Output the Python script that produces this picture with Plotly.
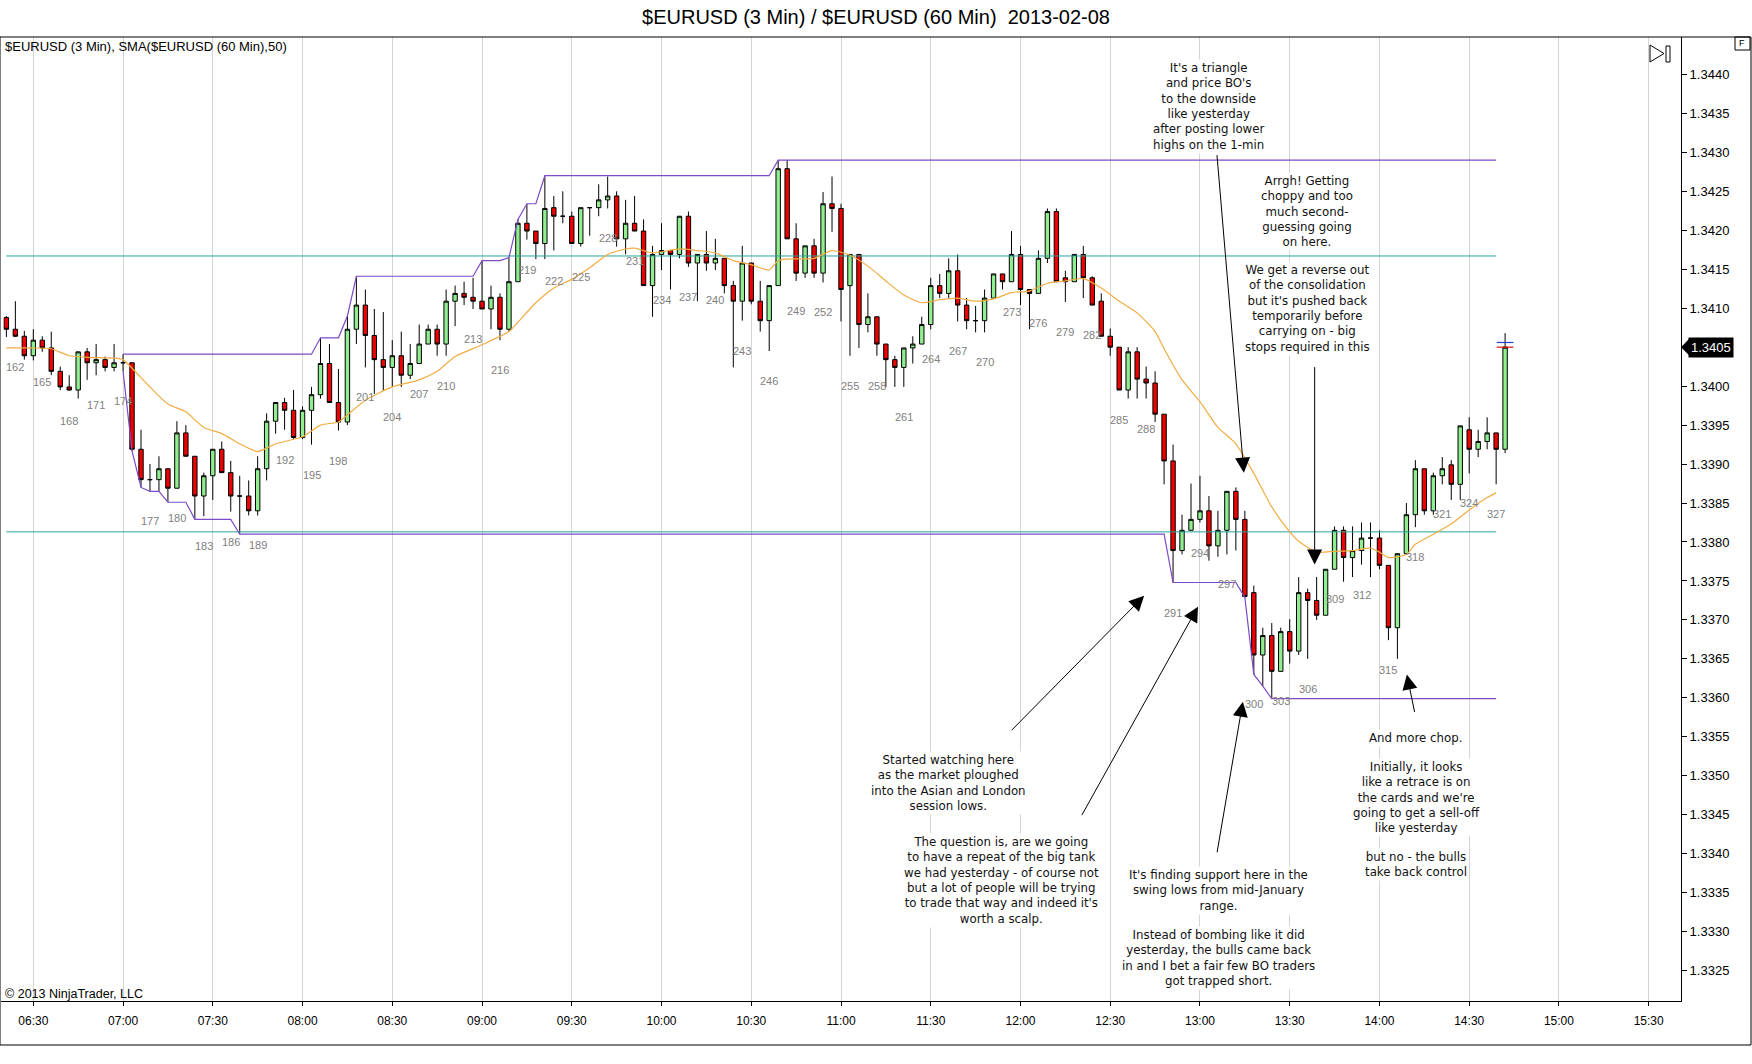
import numpy as np
import pandas as pd
import plotly.graph_objects as go

# 3-min EURUSD bars, numbered like the chart (first visible bar = 161, bar 174 = 07:00)
first_bar = 161
opens = [1.34088, 1.34073, 1.34064, 1.34039, 1.34059, 1.34049, 1.34019, 1.33999, 1.33995, 1.34044,
         1.34030, 1.34034, 1.34024, 1.34030, 1.34030, 1.33919, 1.33880, 1.33880, 1.33894, 1.33869,
         1.33940, 1.33910, 1.33859, 1.33885, 1.33919, 1.33889, 1.33859, 1.33859, 1.33840, 1.33894,
         1.33955, 1.33979, 1.33969, 1.33934, 1.33969, 1.33989, 1.34029, 1.33979, 1.33954, 1.34073,
         1.34104, 1.34065, 1.34034, 1.34024, 1.34039, 1.34014, 1.34029, 1.34054, 1.34073, 1.34054,
         1.34109, 1.34119, 1.34114, 1.34109, 1.34099, 1.34114, 1.34073, 1.34134, 1.34209, 1.34199,
         1.34183, 1.34229, 1.34218, 1.34218, 1.34183, 1.34229, 1.34229, 1.34239, 1.34244, 1.34189,
         1.34209, 1.34199, 1.34129, 1.34169, 1.34174, 1.34169, 1.34218, 1.34158, 1.34169, 1.34158,
         1.34164, 1.34129, 1.34109, 1.34158, 1.34109, 1.34084, 1.34129, 1.34279, 1.34189, 1.34145,
         1.34180, 1.34145, 1.34234, 1.34228, 1.34129, 1.34169, 1.34079, 1.34089, 1.34054, 1.34034,
         1.34024, 1.34049, 1.34054, 1.34079, 1.34129, 1.34119, 1.34148, 1.34104, 1.34084, 1.34084,
         1.34113, 1.34144, 1.34134, 1.34169, 1.34124, 1.34119, 1.34164, 1.34224, 1.34139, 1.34134,
         1.34169, 1.34139, 1.34109, 1.34064, 1.34050, 1.33995, 1.34044, 1.34009, 1.34004, 1.33964,
         1.33904, 1.33789, 1.33815, 1.33829, 1.33840, 1.33795, 1.33815, 1.33865, 1.33829, 1.33735,
         1.33655, 1.33680, 1.33634, 1.33685, 1.33660, 1.33735, 1.33725, 1.33706, 1.33765, 1.33815,
         1.33780, 1.33789, 1.33805, 1.33805, 1.33770, 1.33690, 1.33785, 1.33835, 1.33894, 1.33840,
         1.33885, 1.33899, 1.33874, 1.33944, 1.33919, 1.33929, 1.33940, 1.33919]
highs = [1.34090, 1.34109, 1.34071, 1.34073, 1.34064, 1.34070, 1.34025, 1.34014, 1.34044, 1.34049,
         1.34054, 1.34038, 1.34054, 1.34041, 1.34030, 1.33944, 1.33900, 1.33910, 1.33894, 1.33955,
         1.33950, 1.33910, 1.33889, 1.33919, 1.33929, 1.33904, 1.33885, 1.33879, 1.33910, 1.33965,
         1.33979, 1.33985, 1.33995, 1.33974, 1.33999, 1.34062, 1.34054, 1.34022, 1.34090, 1.34141,
         1.34124, 1.34099, 1.34095, 1.34059, 1.34070, 1.34054, 1.34079, 1.34079, 1.34079, 1.34124,
         1.34129, 1.34134, 1.34139, 1.34161, 1.34129, 1.34119, 1.34165, 1.34214, 1.34234, 1.34199,
         1.34270, 1.34244, 1.34250, 1.34224, 1.34229, 1.34229, 1.34259, 1.34269, 1.34250, 1.34239,
         1.34244, 1.34214, 1.34180, 1.34209, 1.34174, 1.34218, 1.34224, 1.34169, 1.34199, 1.34189,
         1.34164, 1.34135, 1.34180, 1.34158, 1.34135, 1.34129, 1.34290, 1.34290, 1.34209, 1.34180,
         1.34189, 1.34249, 1.34269, 1.34234, 1.34169, 1.34169, 1.34119, 1.34089, 1.34054, 1.34039,
         1.34049, 1.34064, 1.34089, 1.34139, 1.34144, 1.34164, 1.34169, 1.34113, 1.34103, 1.34124,
         1.34144, 1.34144, 1.34199, 1.34180, 1.34124, 1.34174, 1.34228, 1.34228, 1.34148, 1.34169,
         1.34180, 1.34141, 1.34119, 1.34074, 1.34050, 1.34050, 1.34050, 1.34025, 1.34019, 1.33964,
         1.33925, 1.33835, 1.33875, 1.33885, 1.33859, 1.33840, 1.33865, 1.33870, 1.33840, 1.33744,
         1.33690, 1.33696, 1.33690, 1.33701, 1.33755, 1.33740, 1.33755, 1.33765, 1.33820, 1.33820,
         1.33820, 1.33825, 1.33825, 1.33815, 1.33770, 1.33785, 1.33850, 1.33905, 1.33894, 1.33889,
         1.33909, 1.33905, 1.33949, 1.33960, 1.33944, 1.33960, 1.33940, 1.34068]
lows = [1.34063, 1.34063, 1.34034, 1.34033, 1.34044, 1.34014, 1.33995, 1.33994, 1.33984, 1.34008,
        1.34014, 1.34019, 1.34019, 1.34019, 1.33917, 1.33870, 1.33865, 1.33865, 1.33851, 1.33869,
        1.33910, 1.33829, 1.33833, 1.33854, 1.33889, 1.33839, 1.33810, 1.33834, 1.33834, 1.33879,
        1.33939, 1.33944, 1.33932, 1.33932, 1.33925, 1.33984, 1.33979, 1.33943, 1.33950, 1.34054,
        1.34024, 1.33990, 1.33994, 1.33999, 1.33999, 1.34009, 1.34029, 1.34054, 1.34039, 1.34039,
        1.34077, 1.34104, 1.34099, 1.34099, 1.34073, 1.34059, 1.34070, 1.34134, 1.34188, 1.34163,
        1.34163, 1.34174, 1.34209, 1.34183, 1.34179, 1.34193, 1.34218, 1.34228, 1.34179, 1.34169,
        1.34199, 1.34129, 1.34089, 1.34149, 1.34124, 1.34164, 1.34153, 1.34109, 1.34148, 1.34149,
        1.34119, 1.34024, 1.34084, 1.34105, 1.34070, 1.34045, 1.34129, 1.34189, 1.34135, 1.34139,
        1.34139, 1.34133, 1.34198, 1.34083, 1.34039, 1.34049, 1.34069, 1.34039, 1.33999, 1.33999,
        1.33999, 1.34029, 1.34054, 1.34073, 1.34113, 1.34113, 1.34083, 1.34073, 1.34069, 1.34069,
        1.34113, 1.34124, 1.34134, 1.34104, 1.34073, 1.34119, 1.34158, 1.34134, 1.34108, 1.34134,
        1.34113, 1.34104, 1.34064, 1.34039, 1.33995, 1.33984, 1.33984, 1.33984, 1.33954, 1.33874,
        1.33748, 1.33784, 1.33815, 1.33825, 1.33776, 1.33781, 1.33784, 1.33789, 1.33729, 1.33630,
        1.33615, 1.33599, 1.33634, 1.33644, 1.33655, 1.33650, 1.33700, 1.33706, 1.33765, 1.33749,
        1.33755, 1.33771, 1.33755, 1.33765, 1.33674, 1.33650, 1.33785, 1.33819, 1.33835, 1.33835,
        1.33874, 1.33854, 1.33854, 1.33888, 1.33909, 1.33919, 1.33874, 1.33914]
closes = [1.34073, 1.34064, 1.34039, 1.34059, 1.34049, 1.34019, 1.33999, 1.33995, 1.34044, 1.34030,
          1.34034, 1.34024, 1.34030, 1.34030, 1.33919, 1.33880, 1.33880, 1.33894, 1.33869, 1.33940,
          1.33910, 1.33859, 1.33885, 1.33919, 1.33889, 1.33859, 1.33859, 1.33840, 1.33894, 1.33955,
          1.33979, 1.33969, 1.33934, 1.33969, 1.33989, 1.34029, 1.33979, 1.33954, 1.34073, 1.34104,
          1.34065, 1.34034, 1.34024, 1.34039, 1.34014, 1.34029, 1.34054, 1.34073, 1.34054, 1.34109,
          1.34119, 1.34114, 1.34109, 1.34099, 1.34114, 1.34073, 1.34134, 1.34209, 1.34199, 1.34183,
          1.34228, 1.34218, 1.34218, 1.34183, 1.34229, 1.34229, 1.34239, 1.34244, 1.34189, 1.34209,
          1.34199, 1.34129, 1.34169, 1.34174, 1.34169, 1.34218, 1.34158, 1.34169, 1.34158, 1.34164,
          1.34129, 1.34109, 1.34158, 1.34109, 1.34084, 1.34129, 1.34279, 1.34189, 1.34145, 1.34180,
          1.34145, 1.34234, 1.34228, 1.34124, 1.34169, 1.34079, 1.34089, 1.34054, 1.34034, 1.34024,
          1.34049, 1.34054, 1.34079, 1.34129, 1.34119, 1.34148, 1.34104, 1.34084, 1.34084, 1.34113,
          1.34144, 1.34134, 1.34169, 1.34124, 1.34119, 1.34164, 1.34224, 1.34134, 1.34134, 1.34169,
          1.34139, 1.34104, 1.34064, 1.34050, 1.33995, 1.34044, 1.34009, 1.34004, 1.33964, 1.33904,
          1.33789, 1.33815, 1.33829, 1.33840, 1.33795, 1.33815, 1.33865, 1.33829, 1.33730, 1.33655,
          1.33680, 1.33634, 1.33685, 1.33660, 1.33735, 1.33725, 1.33706, 1.33765, 1.33815, 1.33780,
          1.33789, 1.33805, 1.33805, 1.33770, 1.33690, 1.33785, 1.33835, 1.33894, 1.33840, 1.33885,
          1.33894, 1.33874, 1.33949, 1.33919, 1.33929, 1.33940, 1.33919, 1.34050]

# SMA($EURUSD (60 Min),50) at these bars
sma_bars = [161, 164, 166, 168, 170, 173, 174, 175, 177, 179, 181, 183, 185, 187, 189, 191, 194, 196,
            198, 199, 201, 204, 207, 209, 211, 214, 217, 218, 220, 222, 224, 226, 228, 230, 231, 233,
            236, 238, 240, 242, 244, 246, 247, 248, 251, 253, 255, 257, 259, 261, 263, 265, 267, 269,
            271, 273, 275, 277, 279, 281, 283, 285, 287, 289, 290, 292, 294, 296, 298, 300, 302, 304,
            305, 307, 309, 311, 313, 314, 315, 317, 318, 320, 322, 324, 326, 327]
sma_values = [1.34049, 1.34049, 1.34048, 1.34039, 1.34037, 1.34036, 1.34034, 1.34023, 1.33999, 1.33977,
              1.33967, 1.33947, 1.33939, 1.33926, 1.33916, 1.33926, 1.33935, 1.33950, 1.33954, 1.33963,
              1.33982, 1.33999, 1.34008, 1.34019, 1.34038, 1.34053, 1.34070, 1.34082, 1.34107, 1.34126,
              1.34137, 1.34152, 1.34169, 1.34176, 1.34177, 1.34171, 1.34176, 1.34174, 1.34171, 1.34161,
              1.34156, 1.34149, 1.34161, 1.34163, 1.34164, 1.34174, 1.34168, 1.34154, 1.34135, 1.34117,
              1.34107, 1.34111, 1.34113, 1.34109, 1.34112, 1.34120, 1.34122, 1.34132, 1.34135, 1.34138,
              1.34126, 1.34109, 1.34094, 1.34070, 1.34048, 1.34008, 1.33980, 1.33947, 1.33926, 1.33888,
              1.33845, 1.33813, 1.33801, 1.33787, 1.33788, 1.33789, 1.33792, 1.33787, 1.33780, 1.33784,
              1.33797, 1.33810, 1.33823, 1.33841, 1.33857, 1.33863]

# horizontal levels (cyan) and the session high/low window
levels = [1.34167, 1.33813]
session_start_bar = 174
last_line_bar = 327
last_price = 1.3405

notes = [
    "It's a triangle<br>and price BO's<br>to the downside<br>like yesterday<br>after posting lower<br>highs on the 1-min",
    "Arrgh! Getting<br>choppy and too<br>much second-<br>guessing going<br>on here.<br><br>We get a reverse out<br>"
    "of the consolidation<br>but it's pushed back<br>temporarily before<br>carrying on - big<br>stops required in this",
    "Started watching here<br>as the market ploughed<br>into the Asian and London<br>session lows.",
    "The question is, are we going<br>to have a repeat of the big tank<br>we had yesterday - of course not<br>"
    "but a lot of people will be trying<br>to trade that way and indeed it's<br>worth a scalp.",
    "It's finding support here in the<br>swing lows from mid-January<br>range.<br><br>Instead of bombing like it did<br>"
    "yesterday, the bulls came back<br>in and I bet a fair few BO traders<br>got trapped short.",
    "And more chop.<br><br>Initially, it looks<br>like a retrace is on<br>the cards and we're<br>going to get a sell-off<br>"
    "like yesterday<br><br>but no - the bulls<br>take back control",
]
# arrow tips (time, price)
arrow_tips = [('13:14:40', 1.33889), ('13:38:20', 1.33771), ('12:41:20', 1.33731),
              ('12:59:20', 1.33717), ('13:14:20', 1.33595), ('14:09:10', 1.33630)]

# ---- layout helpers (pixel -> paper)
W, H = 1752, 1064
L, R, T, B = 1, 1681, 37, 1001


def px(x):
    return (x - L) / (R - L)


def py(y):
    return (B - y) / (B - T)


day = '2013-02-08 '
bar_no = np.arange(first_bar, first_bar + len(opens))
times = pd.Timestamp(day + '07:00') + pd.to_timedelta((bar_no - 174) * 3, unit='min')


def bar_time(n):
    return pd.Timestamp(day + '07:00') + pd.Timedelta(minutes=3 * (n - 174))


fig = go.Figure()

# cyan levels
for lv in levels:
    fig.add_trace(go.Scatter(x=[bar_time(first_bar), bar_time(last_line_bar)], y=[lv, lv], mode='lines',
                             line=dict(color='#26a39c', width=1), hoverinfo='skip'))

# running session high / low (purple)
i0 = session_start_bar - first_bar
i1 = last_line_bar - first_bar + 1
run_hi = np.maximum.accumulate(np.array(highs[i0:i1]))
run_lo = np.minimum.accumulate(np.array(lows[i0:i1]))
for arr in (run_hi, run_lo):
    fig.add_trace(go.Scatter(x=times[i0:i1], y=arr, mode='lines',
                             line=dict(color='#7d4bc8', width=1.2), hoverinfo='skip'))

# SMA
fig.add_trace(go.Scatter(x=[bar_time(b) for b in sma_bars], y=sma_values, mode='lines',
                         line=dict(color='#f2ac42', width=1.2, shape='spline', smoothing=0.6),
                         hoverinfo='skip'))

fig.add_trace(go.Candlestick(
    x=times, open=opens, high=highs, low=lows, close=closes,
    increasing=dict(line=dict(color='black', width=1), fillcolor='#90ee90'),
    decreasing=dict(line=dict(color='black', width=1), fillcolor='#ee0000'),
    whiskerwidth=0, hoverinfo='skip'))

# bid/ask ticks on the last bar
t_last = bar_time(bar_no[-1])
for dy, col in ((0.00006, '#1f3fd0'), (0.0, '#e01010')):
    fig.add_trace(go.Scatter(x=[t_last - pd.Timedelta(minutes=2.8), t_last + pd.Timedelta(minutes=2.8)],
                             y=[last_price + dy, last_price + dy], mode='lines',
                             line=dict(color=col, width=1.2), hoverinfo='skip'))

annotations = []
# bar numbers every 3rd bar
for n, t, lo in zip(bar_no, times, lows):
    if (n - 162) % 3 == 0 and n <= 327:
        annotations.append(dict(x=t, y=lo, text=str(n), showarrow=False, yshift=-30,
                                font=dict(family='Arial', size=11, color='#808080')))

# notes: centre x and first-line y in pixels; each paragraph gets its own white box
note_pos = [(1209, 69), (1307, 182), (948, 761), (1001, 843), (1218, 876), (1416, 737.5)]
line_h = 14.9
for txt, (cx, y0) in zip(notes, note_pos):
    lines = txt.split('<br>')
    start = 0
    for k in range(len(lines) + 1):
        if k == len(lines) or lines[k] == '':
            if k > start:
                cy = y0 + (start + k - 1) / 2 * line_h
                annotations.append(dict(xref='paper', yref='paper', x=px(cx), y=py(cy),
                                        text='<br>'.join(lines[start:k]), showarrow=False,
                                        xanchor='center', yanchor='middle', align='center', bgcolor='white',
                                        borderpad=1, font=dict(family='DejaVu Sans', size=11.8, color='#111111')))
            start = k + 1

arrow_tails = [(-27, -319), (0, -199), (-134, 136), (-117, 210), (-26, 152), (8, 39)]
for (tt, pr), (ax, ay) in zip(arrow_tips, arrow_tails):
    annotations.append(dict(x=pd.Timestamp(day + tt), y=pr, text='', showarrow=True, ax=ax, ay=ay,
                            axref='pixel', ayref='pixel', arrowhead=2, arrowsize=3, arrowwidth=1,
                            arrowcolor='black', standoff=0))

annotations += [
    dict(xref='paper', yref='paper', x=px(3), y=py(47), text='$EURUSD (3 Min), SMA($EURUSD (60 Min),50)',
         showarrow=False, xanchor='left', yanchor='middle', font=dict(family='Arial', size=13, color='black')),
    dict(xref='paper', yref='paper', x=px(3), y=py(994), text='© 2013 NinjaTrader, LLC',
         showarrow=False, xanchor='left', yanchor='middle', font=dict(family='Arial', size=12.5, color='black')),
    dict(xref='paper', yref='y', x=px(1688), y=last_price, text='1.3405', showarrow=False,
         xanchor='left', yanchor='middle', bgcolor='black', borderpad=2,
         font=dict(family='Arial', size=13, color='white')),
    dict(xref='paper', yref='paper', x=px(1742), y=py(43.5), text='F', showarrow=False,
         xanchor='center', yanchor='middle', font=dict(family='Arial', size=9, color='black')),
]

d8 = 8 / 77.51 * 0.001
shapes = [
    dict(type='rect', xref='paper', yref='paper', x0=px(0), x1=px(1751), y0=py(1045), y1=py(T),
         line=dict(color='black', width=1)),
    dict(type='path', xref='paper', yref='y',
         path=f'M {px(1681)} {last_price} L {px(1689)} {last_price + d8} L {px(1689)} {last_price - d8} Z',
         fillcolor='black', line=dict(width=0)),
    dict(type='rect', xref='paper', yref='paper', x0=px(1735), x1=px(1750), y0=py(50), y1=py(37),
         line=dict(color='black', width=1)),
    dict(type='path', xref='paper', yref='paper',
         path=f'M {px(1650)} {py(45)} L {px(1664)} {py(53.5)} L {px(1650)} {py(62)} Z',
         line=dict(color='black', width=1)),
    dict(type='rect', xref='paper', yref='paper', x0=px(1666), x1=px(1670), y0=py(62), y1=py(46),
         line=dict(color='black', width=1)),
]

fig.update_layout(
    width=W, height=H,
    margin=dict(l=L, r=W - R, t=T, b=H - B),
    paper_bgcolor='white', plot_bgcolor='white',
    showlegend=False,
    title=dict(text='$EURUSD (3 Min) / $EURUSD (60 Min)  2013-02-08', x=0.5, xref='container', xanchor='center',
               y=1 - 17 / H, yanchor='middle', font=dict(family='Arial', size=20, color='black')),
    xaxis=dict(type='date', range=[day + '06:19:12', day + '15:40:48'], tickformat='%H:%M',
               tick0=day + '06:30', dtick=30 * 60 * 1000, showgrid=True, gridcolor='#d4d4d4', gridwidth=1,
               showline=True, linecolor='black', linewidth=1, ticks='outside', ticklen=4, tickcolor='black',
               ticklabelstandoff=5,
               tickfont=dict(family='Arial', size=12, color='black'), zeroline=False,
               rangeslider=dict(visible=False)),
    yaxis=dict(side='right', range=[1.33211, 1.34448], tick0=1.3440, dtick=0.0005, tickformat='.4f',
               showgrid=False, zeroline=False, showline=True, linecolor='black', linewidth=1,
               ticks='outside', ticklen=5, tickcolor='black',
               tickfont=dict(family='Arial', size=13, color='black')),
    annotations=annotations,
    shapes=shapes,
)

fig.write_html("out.html", config={'displayModeBar': False},
               post_script="document.body.style.margin='0px';")
